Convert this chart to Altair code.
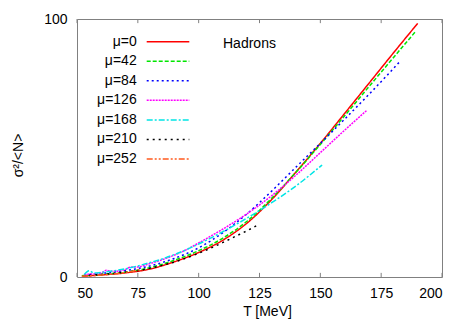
import altair as alt
import pandas as pd

labels = ["μ=0", "μ=42", "μ=84", "μ=126", "μ=168", "μ=210", "μ=252"]
colors = ["#ff0000", "#00e600", "#0000ff", "#ff00ff", "#00e5e5", "#000000", "#ff5a1e"]
dashes = [[1, 0], [4, 2], [2, 3], [2, 1], [6, 2, 2, 2], [2, 4], [6, 2, 2, 2, 2, 2]]

T_mu0 = [52, 60, 70, 80, 90, 100, 110, 120, 130, 140, 150, 160, 170, 180, 190]
v_mu0 = [0.3, 0.8, 1.6, 3.1, 5.9, 9.5, 14.3, 21.0, 30.0, 40.7, 51.8, 63.4, 75.1, 86.8, 98.3]

T_mu42 = [52, 60, 70, 80, 90, 100, 110, 120, 130, 140, 150, 160, 170, 180, 189]
v_mu42 = [0.5, 1.0, 1.9, 3.6, 6.5, 10.2, 15.1, 21.7, 30.5, 40.6, 51.4, 62.5, 73.8, 85.0, 95.0]

T_mu84 = [53, 60, 70, 80, 90, 100, 110, 120, 130, 140, 150, 160, 170, 183]
v_mu84 = [0.8, 1.4, 2.5, 4.3, 7.2, 11.3, 17.2, 24.6, 33.3, 42.6, 51.8, 61.2, 70.8, 83.8]

T_mu126 = [53, 55, 60, 62, 65, 70, 72, 75, 80, 85, 90, 95, 100, 110, 120, 130, 140, 150, 160, 169]
v_mu126 = [1.0, 1.1, 1.6, 2.6, 2.2, 3.0, 3.8, 3.9, 5.2, 6.7, 8.5, 10.6, 13.2, 18.6, 24.6, 31.5, 39.5, 48.2, 56.9, 64.5]

T_mu168 = [53, 55, 57, 60, 65, 70, 75, 80, 85, 90, 95, 100, 110, 120, 130, 140, 150.7]
v_mu168 = [1.0, 2.4, 1.5, 1.8, 2.4, 3.2, 4.3, 5.6, 7.0, 8.7, 10.6, 12.8, 17.6, 22.9, 28.8, 35.3, 43.4]

T_mu210 = [55, 60, 65, 70, 75, 80, 85, 90, 95, 100, 105, 110, 115, 120, 124]
v_mu210 = [0.6, 1.0, 1.4, 1.9, 2.5, 3.4, 4.5, 5.8, 7.4, 9.2, 11.2, 13.4, 15.7, 18.0, 20.0]

T_mu252 = [52, 54, 56, 58, 60, 62, 64, 66, 68, 70, 72, 74, 76]
v_mu252 = [0.3, 0.4, 0.5, 0.6, 0.8, 0.9, 1.1, 1.3, 1.5, 1.8, 2.1, 2.5, 2.9]

x_ticks = [50, 75, 100, 125, 150, 175, 200]
y_ticks = [0, 100]

series = [
    (labels[0], T_mu0, v_mu0),
    (labels[1], T_mu42, v_mu42),
    (labels[2], T_mu84, v_mu84),
    (labels[3], T_mu126, v_mu126),
    (labels[4], T_mu168, v_mu168),
    (labels[5], T_mu210, v_mu210),
    (labels[6], T_mu252, v_mu252),
]
rows = []
for lab, ts, vs in series:
    for t, v in zip(ts, vs):
        rows.append({"label": lab, "T": t, "v": v})
df = pd.DataFrame(rows)

FONT = "Liberation Sans"
xscale = alt.Scale(domain=[50, 200], nice=False)
yscale = alt.Scale(domain=[0, 100], nice=False)
color = alt.Color("label:N", scale=alt.Scale(domain=labels, range=colors), legend=None)
dash = alt.StrokeDash("label:N", scale=alt.Scale(domain=labels, range=dashes), legend=None)

xaxis = alt.Axis(title="T [MeV]", values=x_ticks, ticks=False, tickSize=0, domain=False,
                 grid=False, labelFontSize=14, titleFontSize=14, labelFont=FONT, titleFont=FONT,
                 titleFontWeight="normal", labelColor="black", titleColor="black",
                 labelPadding=9, titlePadding=4, titleX=190)

main = alt.Chart(df).mark_line(strokeWidth=1.5, clip=True, interpolate="monotone").encode(
    x=alt.X("T:Q", scale=xscale, axis=xaxis),
    y=alt.Y("v:Q", scale=yscale,
            axis=alt.Axis(title="σ²/<N>", values=y_ticks, ticks=False, tickSize=0, domain=False,
                          grid=False, labelFontSize=14, titleFontSize=14, labelFont=FONT, titleFont=FONT,
                          titleFontWeight="normal", labelColor="black", titleColor="black",
                          labelPadding=10, titlePadding=18, titleY=136)),
    color=color,
    strokeDash=dash,
    detail="label:N",
    order="T:Q",
)

tick_df = pd.DataFrame({"T": x_ticks})
ticks_bottom = alt.Chart(tick_df).mark_rule(color="#808080", strokeWidth=1).encode(
    x=alt.X("T:Q", scale=xscale, axis=xaxis),
    y=alt.Y("y0:Q", scale=yscale, axis=None),
    y2="y1:Q",
).transform_calculate(y0="0", y1="1.6")
ticks_top = alt.Chart(tick_df).mark_rule(color="#808080", strokeWidth=1).encode(
    x=alt.X("T:Q", scale=xscale, axis=xaxis),
    y=alt.Y("y0:Q", scale=yscale, axis=None),
    y2="y1:Q",
).transform_calculate(y0="98.4", y1="100")

leg_df = pd.DataFrame({"label": labels})
legy = alt.Y("label:N", sort=labels, scale=alt.Scale(type="point", domain=labels, range=[22.7, 140], padding=0), axis=None)
leg_lines = alt.Chart(leg_df).mark_rule(strokeWidth=1.5).encode(
    x=alt.value(69.7), x2=alt.value(112.3), y=legy, color=color, strokeDash=dash,
)
leg_text = alt.Chart(leg_df).mark_text(align="right", baseline="middle", fontSize=14, font=FONT, color="black").encode(
    x=alt.value(59.7), y=legy, text="label:N",
)
had_df = pd.DataFrame({"t": ["Hadrons"]})
hadrons = alt.Chart(had_df).mark_text(align="left", baseline="middle", fontSize=14, font=FONT, color="black").encode(
    x=alt.value(146), y=alt.value(25), text="t:N",
)

chart = alt.layer(main, ticks_bottom, ticks_top, leg_lines, leg_text, hadrons).resolve_scale(
    y="independent"
).properties(
    width=365, height=258,
    padding={"left": 69, "top": 11, "right": 20, "bottom": 50},
    autosize=alt.AutoSizeParams(type="none"),
).configure_view(stroke="#808080", strokeWidth=1)

chart.save("out.html", embed_options={"renderer": "svg", "actions": False})
